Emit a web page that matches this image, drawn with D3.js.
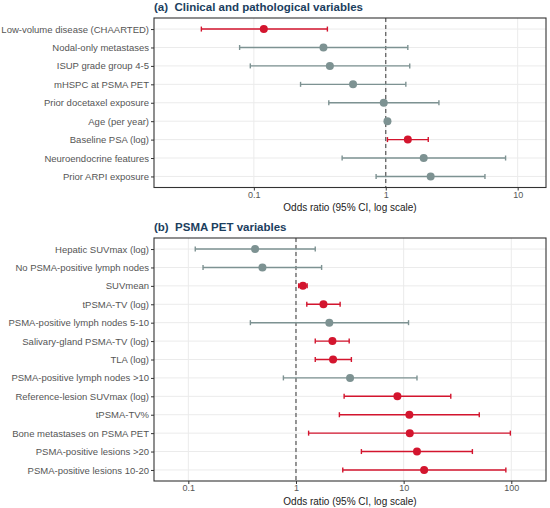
<!DOCTYPE html>
<html>
<head>
<meta charset="utf-8">
<script src="https://cdn.jsdelivr.net/npm/d3@7"></script>
<style>
  body { margin: 0; background: #fff; }
  svg { font-family: "Liberation Sans", Arial, sans-serif; }
</style>
</head>
<body>
<svg id="chart" width="550" height="508"></svg>
<script>
// Panel (a): clinical and pathological variables
const clinLabels = ["Low-volume disease (CHAARTED)", "Nodal-only metastases", "ISUP grade group 4-5",
  "mHSPC at PSMA PET", "Prior docetaxel exposure", "Age (per year)", "Baseline PSA (log)",
  "Neuroendocrine features", "Prior ARPI exposure"];
const clinOR = [0.119, 0.337, 0.377, 0.565, 0.966, 1.03, 1.47, 1.94, 2.19];
const clinLow = [0.040, 0.078, 0.094, 0.226, 0.37, 1.01, 1.03, 0.467, 0.845];
const clinHigh = [0.361, 1.47, 1.52, 1.42, 2.53, 1.05, 2.10, 8.1, 5.65];
const clinSig = [true, false, false, false, false, false, true, false, false];
const clinTicks = [0.1, 1, 10];

// Panel (b): PSMA PET variables
const petLabels = ["Hepatic SUVmax (log)", "No PSMA-positive lymph nodes", "SUVmean", "tPSMA-TV (log)",
  "PSMA-positive lymph nodes 5-10", "Salivary-gland PSMA-TV (log)", "TLA (log)",
  "PSMA-positive lymph nodes >10", "Reference-lesion SUVmax (log)", "tPSMA-TV%",
  "Bone metastases on PSMA PET", "PSMA-positive lesions >20", "PSMA-positive lesions 10-20"];
const petOR = [0.417, 0.488, 1.16, 1.80, 2.04, 2.18, 2.21, 3.18, 8.75, 11.3, 11.4, 13.3, 15.5];
const petLow = [0.116, 0.137, 1.06, 1.26, 0.377, 1.51, 1.51, 0.764, 2.80, 2.53, 1.31, 4.05, 2.72];
const petHigh = [1.51, 1.73, 1.27, 2.57, 11.1, 3.12, 3.27, 13.3, 27.4, 50.4, 98, 43.5, 89];
const petSig = [false, false, true, true, false, true, true, false, true, true, true, true, true];
const petTicks = [0.1, 1, 10, 100];

const RED = "#d3152e", GREY = "#7d9292";
const svg = d3.select("#chart");

function panel(opts) {
  const { title, labels, or, lo, hi, sig, ticks, xDomain, top, bottom } = opts;
  const left = 154, right = 546;
  const x = d3.scaleLog().domain(xDomain).range([left, right]);
  const y = d3.scalePoint().domain(labels).range([top, bottom]).padding(0.6);
  const g = svg.append("g");

  // grid
  g.selectAll(".hg").data(labels).enter().append("line")
    .attr("x1", left).attr("x2", right)
    .attr("y1", d => y(d)).attr("y2", d => y(d))
    .attr("stroke", "#ebebeb").attr("stroke-width", 1);
  g.selectAll(".vg").data(ticks).enter().append("line")
    .attr("x1", d => x(d)).attr("x2", d => x(d))
    .attr("y1", top).attr("y2", bottom)
    .attr("stroke", "#ebebeb").attr("stroke-width", 1);

  // reference line at OR = 1
  g.append("line")
    .attr("x1", x(1)).attr("x2", x(1)).attr("y1", top).attr("y2", bottom)
    .attr("stroke", "#555").attr("stroke-width", 1.2).attr("stroke-dasharray", "4,3");

  const rows = labels.map((l, i) => ({ label: l, or: or[i], lo: lo[i], hi: hi[i], sig: sig[i] }));
  const row = g.selectAll(".row").data(rows).enter().append("g");
  row.append("line")
    .attr("x1", d => x(d.lo)).attr("x2", d => x(d.hi))
    .attr("y1", d => y(d.label)).attr("y2", d => y(d.label))
    .attr("stroke", d => d.sig ? RED : GREY).attr("stroke-width", 1.4);
  ["lo", "hi"].forEach(k => {
    row.append("line")
      .attr("x1", d => x(d[k])).attr("x2", d => x(d[k]))
      .attr("y1", d => y(d.label) - 2.5).attr("y2", d => y(d.label) + 2.5)
      .attr("stroke", d => d.sig ? RED : GREY).attr("stroke-width", 1.4);
  });
  row.append("circle")
    .attr("cx", d => x(d.or)).attr("cy", d => y(d.label)).attr("r", 4)
    .attr("fill", d => d.sig ? RED : GREY);

  // panel border
  g.append("rect")
    .attr("x", left).attr("y", top).attr("width", right - left).attr("height", bottom - top)
    .attr("fill", "none").attr("stroke", "#333").attr("stroke-width", 1.1);

  // axes
  const xAxis = g.append("g").attr("transform", `translate(0,${bottom})`)
    .call(d3.axisBottom(x).tickValues(ticks).tickFormat(d3.format("~g")).tickSize(3).tickPadding(1));
  const yAxis = g.append("g").attr("transform", `translate(${left},0)`)
    .call(d3.axisLeft(y).tickSize(3).tickPadding(2));
  [xAxis, yAxis].forEach(a => {
    a.select(".domain").remove();
    a.selectAll(".tick line").attr("stroke", "#333");
    a.selectAll("text").attr("fill", "#555");
  });
  xAxis.selectAll("text").style("font-size", "9px");
  yAxis.selectAll("text").style("font-size", "9.5px");

  g.append("text")
    .attr("x", (left + right) / 2).attr("y", bottom + 23.5)
    .attr("text-anchor", "middle").style("font-size", "10px").attr("fill", "#222")
    .text("Odds ratio (95% CI, log scale)");

  g.append("text")
    .attr("x", left).attr("y", top - 7)
    .style("font-size", "11.5px").style("font-weight", "bold").attr("fill", "#1b3e5e")
    .attr("xml:space", "preserve")
    .text(title);
}

panel({ title: "(a)  Clinical and pathological variables", labels: clinLabels, or: clinOR, lo: clinLow,
  hi: clinHigh, sig: clinSig, ticks: clinTicks, xDomain: [0.0175, 16.4], top: 18, bottom: 187.5 });
panel({ title: "(b)  PSMA PET variables", labels: petLabels, or: petOR, lo: petLow,
  hi: petHigh, sig: petSig, ticks: petTicks, xDomain: [0.048, 210], top: 238, bottom: 481 });
</script>
</body>
</html>
